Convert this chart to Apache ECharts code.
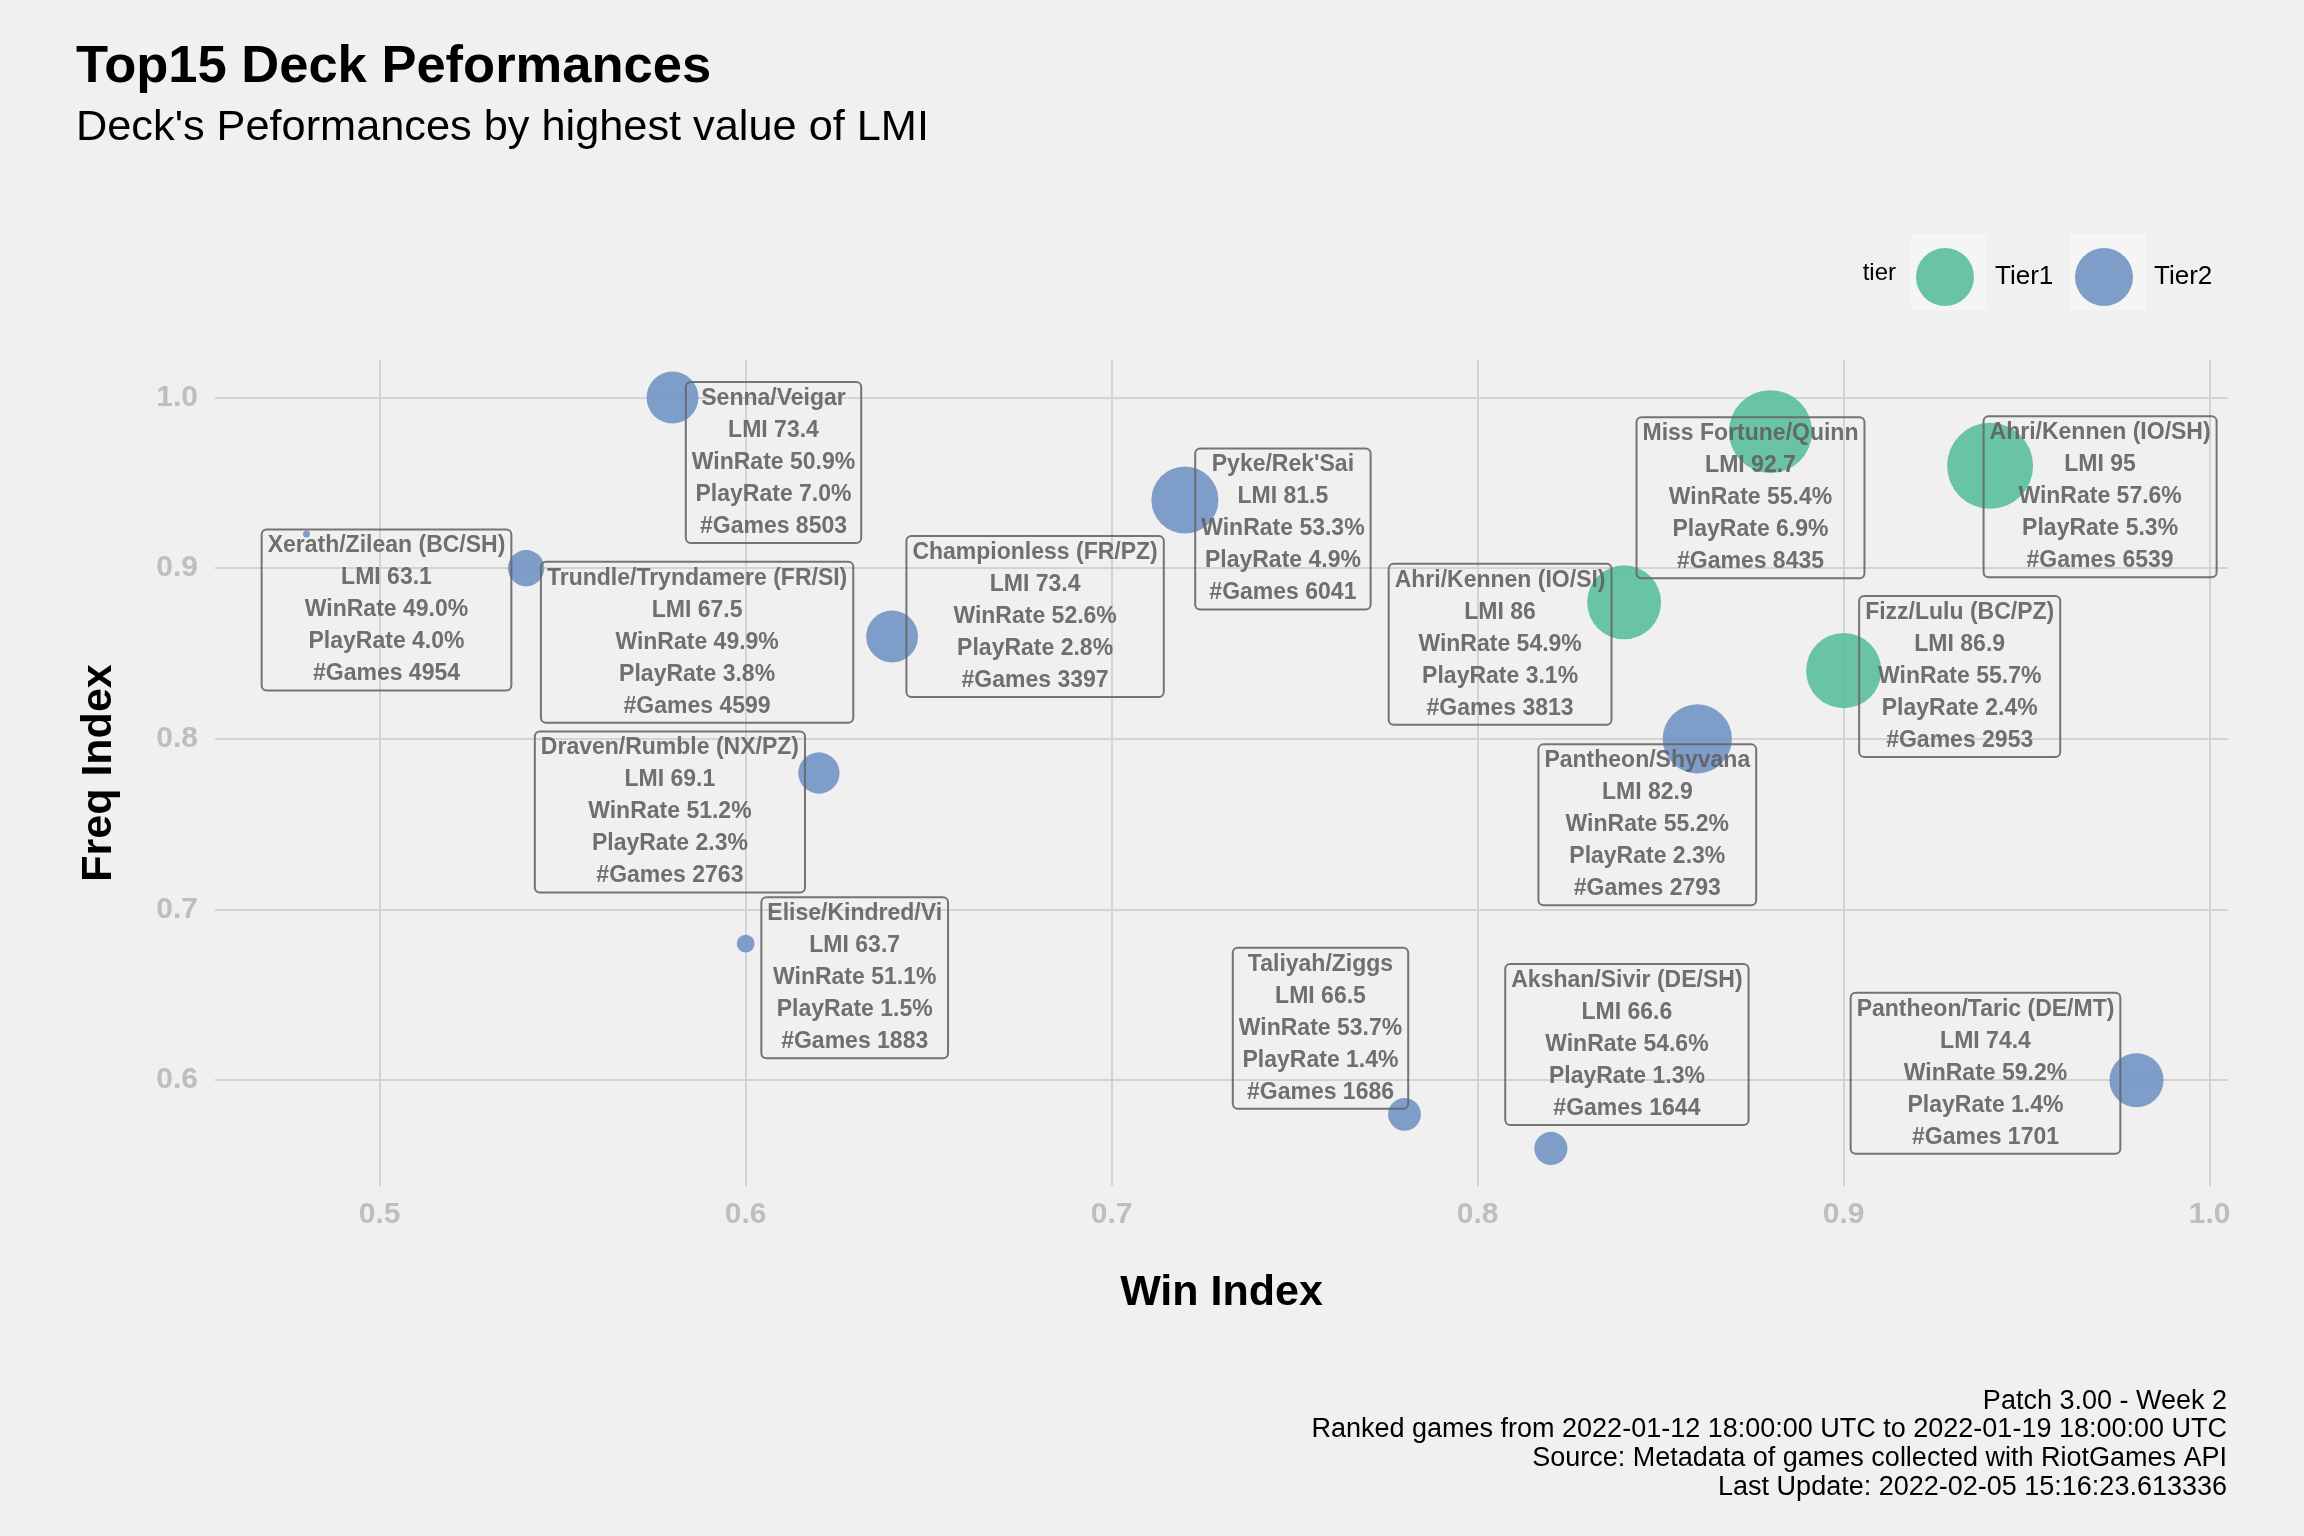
<!DOCTYPE html>
<html>
<head>
<meta charset="utf-8">
<script src="https://cdn.jsdelivr.net/npm/echarts@6/dist/echarts.min.js"></script>
<style>
html,body{margin:0;padding:0;background:#f0f0f0;}
#chart{width:2304px;height:1536px;}
</style>
</head>
<body>
<div id="chart"></div>
<script>
// ---- data ----
const decks = ["Ahri/Kennen (IO/SH)", "Miss Fortune/Quinn", "Fizz/Lulu (BC/PZ)", "Ahri/Kennen (IO/SI)",
  "Pantheon/Shyvana", "Pyke/Rek'Sai", "Pantheon/Taric (DE/MT)", "Senna/Veigar", "Championless (FR/PZ)",
  "Draven/Rumble (NX/PZ)", "Trundle/Tryndamere (FR/SI)", "Akshan/Sivir (DE/SH)", "Taliyah/Ziggs",
  "Elise/Kindred/Vi", "Xerath/Zilean (BC/SH)"];
const tiers = ["Tier1", "Tier1", "Tier1", "Tier1", "Tier2", "Tier2", "Tier2", "Tier2", "Tier2",
  "Tier2", "Tier2", "Tier2", "Tier2", "Tier2", "Tier2"];
const winIndex = [0.94, 0.88, 0.90, 0.84, 0.86, 0.72, 0.98, 0.58, 0.64, 0.62, 0.54, 0.82, 0.78, 0.60, 0.48];
const freqIndex = [0.96, 0.98, 0.84, 0.88, 0.80, 0.94, 0.60, 1.00, 0.86, 0.78, 0.90, 0.56, 0.58, 0.68, 0.92];
const lmi = [95, 92.7, 86.9, 86, 82.9, 81.5, 74.4, 73.4, 73.4, 69.1, 67.5, 66.6, 66.5, 63.7, 63.1];
const winRate = [57.6, 55.4, 55.7, 54.9, 55.2, 53.3, 59.2, 50.9, 52.6, 51.2, 49.9, 54.6, 53.7, 51.1, 49.0];
const playRate = [5.3, 6.9, 2.4, 3.1, 2.3, 4.9, 1.4, 7.0, 2.8, 2.3, 3.8, 1.3, 1.4, 1.5, 4.0];
const games = [6539, 8435, 2953, 3813, 2793, 6041, 1701, 8503, 3397, 2763, 4599, 1644, 1686, 1883, 4954];
const tierNames = ["Tier1", "Tier2"];
const xTicks = [0.5, 0.6, 0.7, 0.8, 0.9, 1.0];
const yTicks = [0.6, 0.7, 0.8, 0.9, 1.0];

// ---- layout (label box offsets from the point, px) ----
const labelOffsets = [[110, 31], [-20, 66], [116, 6], [-124, 42], [-50, 86], [98, 29], [-151, -7],
  [101, 65], [143, -20], [-149, 39], [171, 74], [76, -104], [-84, -86], [109, 34], [80, 76]];

const FONT = "'Liberation Sans', Arial, sans-serif";
const tierColors = { Tier1: '#59be9f', Tier2: '#7294c4' };
const minL = Math.min(...lmi), maxL = Math.max(...lmi);
function sizeScale(v) { return 7 + 79 * Math.sqrt((v - minL) / (maxL - minL)); }

function labelText(i) {
  return [decks[i], 'LMI ' + lmi[i], 'WinRate ' + winRate[i].toFixed(1) + '%',
    'PlayRate ' + playRate[i].toFixed(1) + '%', '#Games ' + games[i]].join('\n');
}

const series = tierNames.map(t => ({
  name: t,
  type: 'scatter',
  symbol: 'circle',
  symbolSize: v => sizeScale(v[2]),
  itemStyle: { color: tierColors[t], opacity: 0.9 },
  emphasis: { disabled: true },
  label: {
    show: true,
    position: 'inside',
    formatter: p => labelText(p.value[3]),
    fontFamily: FONT,
    fontSize: 23,
    fontWeight: 'bold',
    color: '#606060',
    lineHeight: 32,
    align: 'center',
    borderColor: '#666666',
    borderWidth: 1,
    borderRadius: 5,
    padding: [1, 6, 0, 6],
    backgroundColor: 'transparent'
  },
  data: decks.map((d, i) => i).filter(i => tiers[i] === t).map(i => ({
    value: [winIndex[i], freqIndex[i], lmi[i], i],
    label: { offset: labelOffsets[i] }
  }))
}));

const axisLabelStyle = { color: '#bebebe', fontSize: 30, fontWeight: 'bold', fontFamily: FONT };
const nameStyle = { color: '#000', fontSize: 43, fontWeight: 'bold', fontFamily: FONT };

function legendFor(name, left) {
  return {
    left: left, top: 243,
    orient: 'horizontal',
    data: [name],
    icon: 'circle',
    itemWidth: 76, itemHeight: 58,
    selectedMode: false,
    textStyle: { color: '#000', fontSize: 26, fontFamily: FONT, padding: [0, 0, 0, 7] }
  };
}

const option = {
  backgroundColor: '#f0f0f0',
  animation: false,
  grid: { left: 215, right: 76, top: 360, bottom: 350 },
  xAxis: {
    type: 'value', min: 0.455, max: 1.005,
    axisLine: { show: false },
    axisTick: { show: false, customValues: xTicks },
    axisLabel: Object.assign({ customValues: xTicks, margin: 14, formatter: v => v.toFixed(1) }, axisLabelStyle),
    splitLine: { show: true, lineStyle: { color: '#d3d3d3', width: 2 } },
    name: 'Win Index', nameLocation: 'middle', nameGap: 86, nameTextStyle: nameStyle
  },
  yAxis: {
    type: 'value', min: 0.538, max: 1.022,
    axisLine: { show: false },
    axisTick: { show: false, customValues: yTicks },
    axisLabel: Object.assign({ customValues: yTicks, margin: 17, formatter: v => v.toFixed(1) }, axisLabelStyle),
    splitLine: { show: true, lineStyle: { color: '#d3d3d3', width: 2 } },
    name: 'Freq Index', nameLocation: 'middle', nameGap: 94, nameRotate: 90, nameTextStyle: nameStyle
  },
  legend: [legendFor('Tier1', 1911), legendFor('Tier2', 2070)],
  graphic: [
    { type: 'rect', left: 1911, top: 234, shape: { width: 76, height: 76 }, style: { fill: '#f5f5f5' }, z: 1 },
    { type: 'rect', left: 2070, top: 234, shape: { width: 76, height: 76 }, style: { fill: '#f5f5f5' }, z: 1 },
    { type: 'text', x: 76, y: 68, style: { text: 'Top15 Deck Peformances', fill: '#000', font: 'bold 52.5px ' + FONT, textVerticalAlign: 'middle' } },
    { type: 'text', x: 76, y: 128, style: { text: "Deck's Peformances by highest value of LMI", fill: '#000', font: '43.3px ' + FONT, textVerticalAlign: 'middle' } },
    { type: 'text', x: 1896, y: 273, style: { text: 'tier', fill: '#000', font: '24px ' + FONT, textAlign: 'right', textVerticalAlign: 'middle' } },
    { type: 'text', x: 2227, y: 1387, style: {
      text: 'Patch 3.00 - Week 2\nRanked games from 2022-01-12 18:00:00 UTC to 2022-01-19 18:00:00 UTC\nSource: Metadata of games collected with RiotGames API\nLast Update: 2022-02-05 15:16:23.613336',
      fill: '#000', font: '27px ' + FONT, textAlign: 'right', textVerticalAlign: 'top', lineHeight: 28.6 } }
  ],
  series: series
};

const chart = echarts.init(document.getElementById('chart'), null, { renderer: 'canvas' });
chart.setOption(option);
</script>
</body>
</html>
